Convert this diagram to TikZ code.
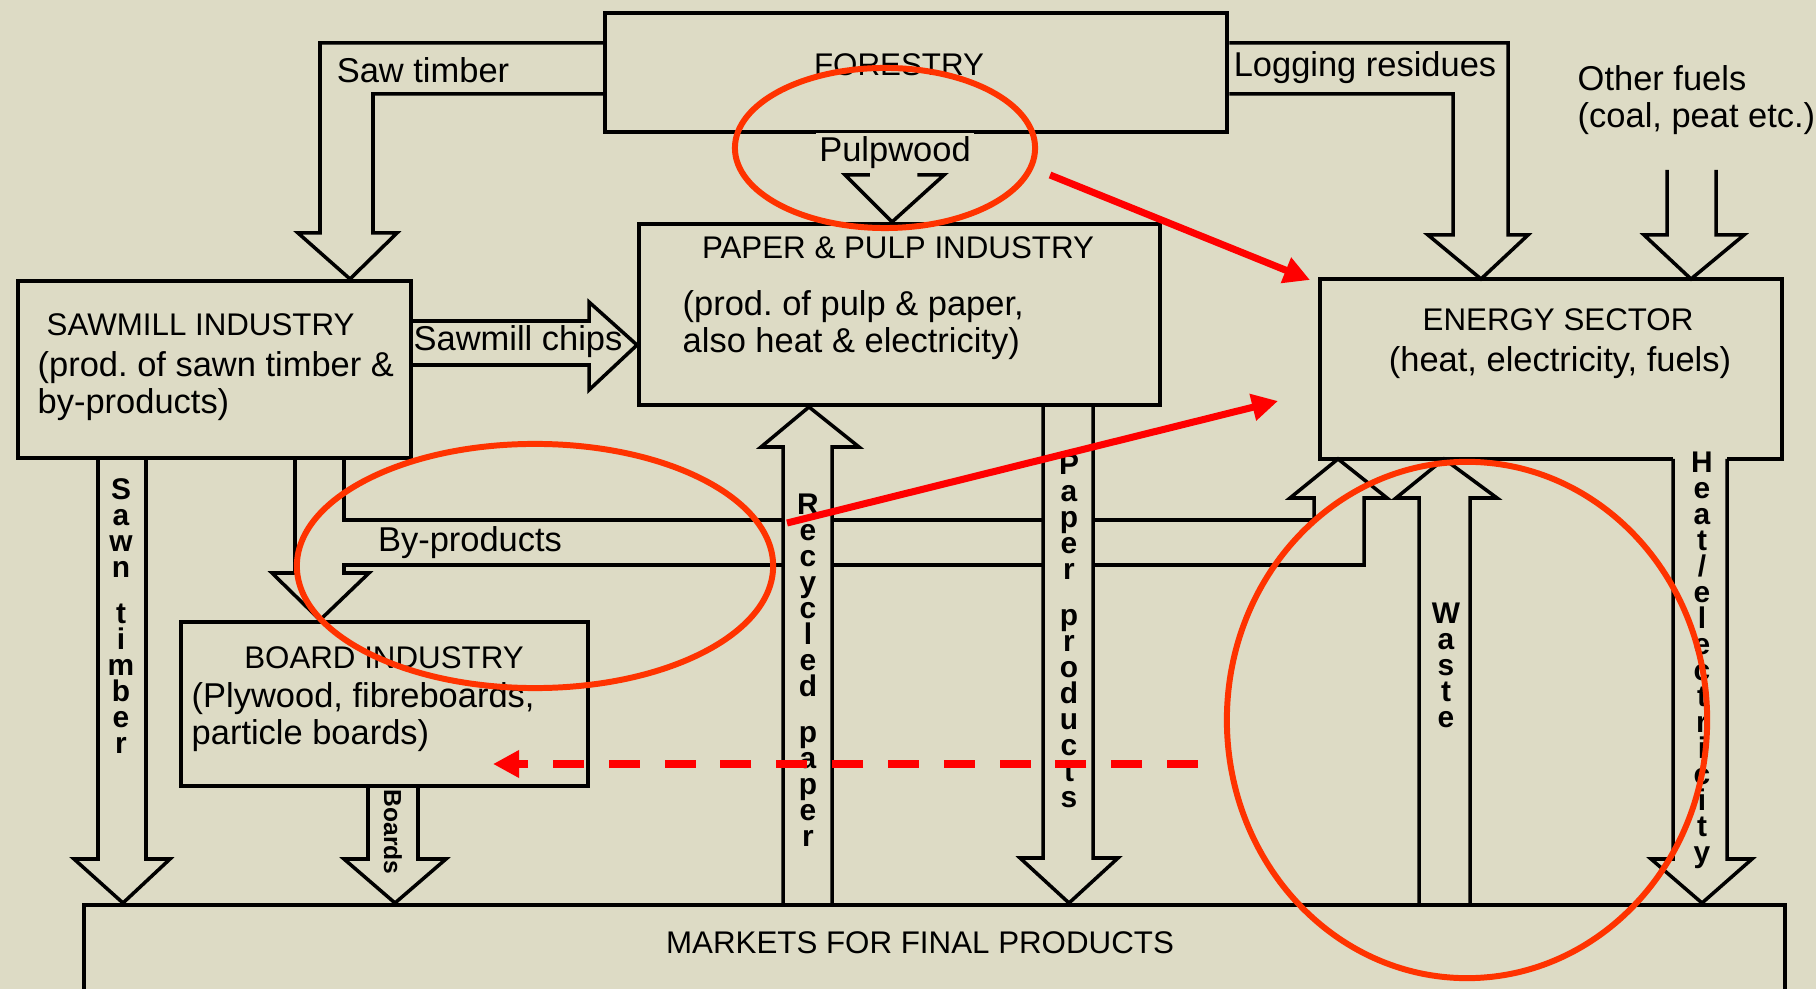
\documentclass[tikz,border=0pt]{standalone}
\usepackage{fontspec}
\setmainfont{Liberation Sans}
\usetikzlibrary{arrows.meta,shapes.geometric}
\definecolor{paperbg}{RGB}{221,219,197}
\definecolor{ringred}{RGB}{255,51,0}
\definecolor{markred}{RGB}{255,0,0}
\begin{document}
\begin{tikzpicture}[x=0.01cm,y=-0.01cm,
    box/.style={draw,line width=1.1pt,inner sep=0pt,anchor=north west},
    blk/.style={draw,line width=1pt,line join=miter},
    head/.style={font=\fontsize{8.9}{10}\selectfont,inner sep=0pt},
    desc/.style={font=\fontsize{9.8}{10.3}\selectfont,align=left,inner sep=0pt,anchor=west},
    lbl/.style={font=\fontsize{9.8}{10.3}\selectfont,inner sep=0pt},
    vlbl/.style={font=\fontsize{8.5}{7.4}\selectfont\bfseries,align=center,inner sep=0pt},
    ring/.style={ellipse,draw=ringred,line width=1.7pt,inner sep=0pt},
    redarrow/.style={draw=markred,line width=2pt,-{Triangle[length=0.26cm,width=0.26cm]}}]
        \useasboundingbox (0,0) rectangle (1816,989);
        \clip (0,0) rectangle (1816,989);
        \fill[paperbg] (0,0) rectangle (1816,989);

        \node[box,minimum width=6.22cm,minimum height=1.19cm] (forestry) at (603,11) {};
        \node[box,minimum width=3.93cm,minimum height=1.77cm] (sawmill) at (16,279) {};
        \node[box,minimum width=5.21cm,minimum height=1.81cm] (paper) at (637,222) {};
        \node[box,draw=none,minimum width=4.58cm,minimum height=1.76cm] (energy) at (1320,279) {};
        \node[box,minimum width=4.07cm,minimum height=1.64cm] (board) at (179,620) {};
        \node[box,minimum width=17cm,minimum height=2cm] (markets) at (82,903) {};
        \draw[line width=1.1pt] (1673,0 |- energy.south) -- (energy.south west) -- (energy.north west)
        -- (energy.north east) -- (energy.south east) -- (1727,0 |- energy.south);

        \node[head] at (899,65) {FORESTRY};
        \node[head,anchor=west] at (46,325) {SAWMILL INDUSTRY};
        \node[desc] at (37,386) {(prod.\ of sawn timber \&\\by-products)};
        \node[head] at (898,248) {PAPER \& PULP INDUSTRY};
        \node[desc] at (682,325) {(prod.\ of pulp \& paper,\\also heat \& electricity)};
        \node[head] at (1558,320) {ENERGY SECTOR};
        \node[lbl] at (1560,363) {(heat, electricity, fuels)};
        \node[head] at (384,658) {BOARD INDUSTRY};
        \node[desc] at (191,717) {(Plywood, fibreboards,\\particle boards)};
        \node[head] at (920,943) {MARKETS FOR FINAL PRODUCTS};
        \node[desc] at (1577,100) {Other fuels\\(coal, peat etc.)};

        \draw[blk] (forestry.west |- 0,43) -- (320,43) -- (320,233) -- (298,233) -- (350,0 |- sawmill.north)
        -- (397,233) -- (373,233) -- (373,94) -- (forestry.west |- 0,94);
        \draw[blk] (forestry.east |- 0,43) -- (1508,43) -- (1508,235) -- (1528,235) -- (1481,0 |- energy.north)
        -- (1428,235) -- (1453,235) -- (1453,94) -- (forestry.east |- 0,94);
        \draw[blk] (868,0 |- forestry.south) -- (868,175) -- (845,175) -- (892,0 |- paper.north)
        -- (944,175) -- (919,175) -- (919,0 |- forestry.south);
        \draw[blk] (1667,170) -- (1667,235) -- (1644,235) -- (1691,0 |- energy.north)
        -- (1744,235) -- (1716,235) -- (1716,170);
        \draw[blk] (sawmill.east |- 0,321) -- (589,321) -- (589,302) -- (paper.west |- 0,345)
        -- (589,390) -- (589,365) -- (sawmill.east |- 0,365);
        \draw[blk] (98,0 |- sawmill.south) -- (98,859) -- (74,859) -- (123,0 |- markets.north)
        -- (170,859) -- (146,859) -- (146,0 |- sawmill.south);
        \draw[blk] (295,0 |- sawmill.south) -- (295,573) -- (272,573) -- (320,0 |- board.north)
        -- (369,573) -- (344,573) -- (344,565) -- (783,565);
        \draw[blk] (344,0 |- sawmill.south) -- (344,520) -- (783,520);
        \draw[blk] (832,520) -- (1043,520) (832,565) -- (1043,565);
        \draw[blk] (1093,520) -- (1314,520) -- (1314,498) -- (1290,498) -- (1338,0 |- energy.south)
        -- (1387,498) -- (1364,498) -- (1364,565) -- (1093,565);
        \draw[blk] (368,0 |- board.south) -- (368,859) -- (344,859) -- (395,0 |- markets.north)
        -- (446,859) -- (418,859) -- (418,0 |- board.south);
        \draw[blk] (783,0 |- markets.north) -- (783,447) -- (761,447) -- (809,0 |- paper.south)
        -- (859,447) -- (832,447) -- (832,0 |- markets.north);
        \draw[blk] (1043,0 |- paper.south) -- (1043,858) -- (1020,858) -- (1069,0 |- markets.north)
        -- (1118,858) -- (1093,858) -- (1093,0 |- paper.south);
        \draw[blk] (1419,0 |- markets.north) -- (1419,498) -- (1396,498) -- (1444,0 |- energy.south)
        -- (1497,498) -- (1470,498) -- (1470,0 |- markets.north);
        \draw[blk] (1673,0 |- energy.south) -- (1673,859) -- (1651,859) -- (1702,0 |- markets.north)
        -- (1752,859) -- (1727,859) -- (1727,0 |- energy.south);

        \node[lbl] at (423,70) {Saw timber};
        \node[lbl] at (1365,68) {Logging residues};
        \node[lbl,fill=paperbg,inner sep=1pt] at (895,153) {Pulpwood};
        \node[lbl] at (518,342) {Sawmill chips};
        \node[lbl] at (470,543) {By-products};
        \node[vlbl] at (121,616) {S\\a\\w\\n\\[0.2cm]t\\i\\m\\b\\e\\r};
        \node[vlbl] at (808,670) {R\\e\\c\\y\\c\\l\\e\\d\\[0.2cm]p\\a\\p\\e\\r};
        \node[vlbl] at (1069,631) {P\\a\\p\\e\\r\\[0.2cm]p\\r\\o\\d\\u\\c\\t\\s};
        \node[vlbl] at (1446,665) {W\\a\\s\\t\\e};
        \node[vlbl] at (1702,660) {H\\e\\a\\t\\/\\e\\l\\e\\c\\t\\r\\i\\c\\i\\t\\y};
        \node[font=\fontsize{7}{8}\selectfont\bfseries,inner sep=0pt,rotate=-90] at (393,832) {Boards};

        \node[ring,minimum width=3cm,minimum height=1.6cm] (ringpulp) at (885,148) {};
        \node[ring,minimum width=4.76cm,minimum height=2.44cm] (ringby) at (535,566) {};
        \node[ring,minimum width=4.8cm,minimum height=5.16cm] (ringwaste) at (1467,720) {};
        \coordinate (pulpnote) at (1050,175);
        \coordinate (energytop) at (1310,280);
        \coordinate (bynote) at (787,523);
        \coordinate (energyside) at (1278,401);
        \coordinate (wastenote) at (1198,764);
        \coordinate (boardnote) at (493,764);
        \draw[redarrow] (pulpnote) -- (energytop);
        \draw[redarrow] (bynote) -- (energyside);
        \draw[redarrow,dash pattern=on 0.31cm off 0.248cm] (wastenote) -- (boardnote);
    \end{tikzpicture}
\end{document}
